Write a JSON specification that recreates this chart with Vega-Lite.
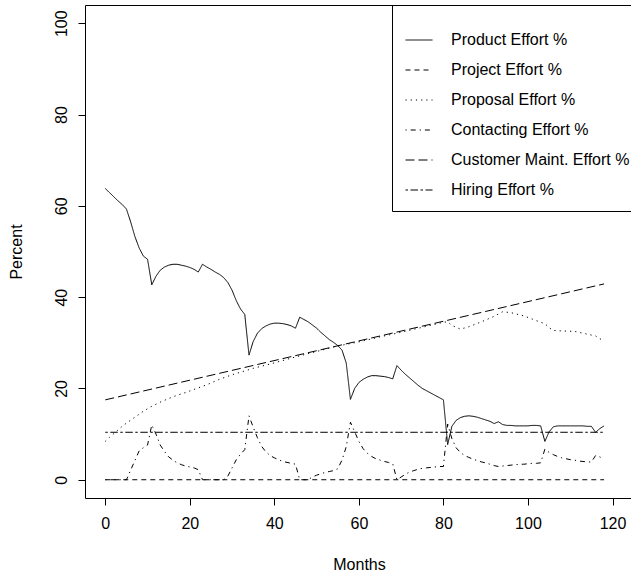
{
  "$schema": "https://vega.github.io/schema/vega-lite/v6.json",
  "width": 548,
  "height": 493,
  "autosize": {"type": "none"},
  "padding": {"left": 85, "top": 5, "right": -2, "bottom": 80},
  "background": "white",
  "config": {
    "font": "Liberation Sans",
    "view": {"stroke": "black", "strokeWidth": 1},
    "axis": {
      "domain": false,
      "grid": false,
      "tickColor": "black",
      "tickSize": 7,
      "tickWidth": 1,
      "labelColor": "black",
      "labelFontSize": 16,
      "titleColor": "black",
      "titleFontSize": 16,
      "titleFontWeight": "normal"
    }
  },
  "data": {
    "values": [
      {"series": "Product Effort %", "month": 0, "value": 63.8},
      {"series": "Product Effort %", "month": 1, "value": 62.9},
      {"series": "Product Effort %", "month": 2, "value": 62.0},
      {"series": "Product Effort %", "month": 3, "value": 61.1},
      {"series": "Product Effort %", "month": 4, "value": 60.3},
      {"series": "Product Effort %", "month": 5, "value": 59.3},
      {"series": "Product Effort %", "month": 6, "value": 56.5},
      {"series": "Product Effort %", "month": 7, "value": 53.3},
      {"series": "Product Effort %", "month": 8, "value": 50.8},
      {"series": "Product Effort %", "month": 9, "value": 49.0},
      {"series": "Product Effort %", "month": 10, "value": 48.3},
      {"series": "Product Effort %", "month": 11, "value": 42.7},
      {"series": "Product Effort %", "month": 12, "value": 44.6},
      {"series": "Product Effort %", "month": 13, "value": 45.9},
      {"series": "Product Effort %", "month": 14, "value": 46.6},
      {"series": "Product Effort %", "month": 15, "value": 47.0},
      {"series": "Product Effort %", "month": 16, "value": 47.2},
      {"series": "Product Effort %", "month": 17, "value": 47.2},
      {"series": "Product Effort %", "month": 18, "value": 47.0},
      {"series": "Product Effort %", "month": 19, "value": 46.8},
      {"series": "Product Effort %", "month": 20, "value": 46.5},
      {"series": "Product Effort %", "month": 21, "value": 46.1},
      {"series": "Product Effort %", "month": 22, "value": 45.5},
      {"series": "Product Effort %", "month": 23, "value": 47.2},
      {"series": "Product Effort %", "month": 24, "value": 46.6},
      {"series": "Product Effort %", "month": 25, "value": 46.1},
      {"series": "Product Effort %", "month": 26, "value": 45.5},
      {"series": "Product Effort %", "month": 27, "value": 45.0},
      {"series": "Product Effort %", "month": 28, "value": 44.3},
      {"series": "Product Effort %", "month": 29, "value": 43.2},
      {"series": "Product Effort %", "month": 30, "value": 41.5},
      {"series": "Product Effort %", "month": 31, "value": 39.2},
      {"series": "Product Effort %", "month": 32, "value": 37.4},
      {"series": "Product Effort %", "month": 33, "value": 36.2},
      {"series": "Product Effort %", "month": 34, "value": 27.3},
      {"series": "Product Effort %", "month": 35, "value": 30.3},
      {"series": "Product Effort %", "month": 36, "value": 32.1},
      {"series": "Product Effort %", "month": 37, "value": 33.1},
      {"series": "Product Effort %", "month": 38, "value": 33.7},
      {"series": "Product Effort %", "month": 39, "value": 34.1},
      {"series": "Product Effort %", "month": 40, "value": 34.3},
      {"series": "Product Effort %", "month": 41, "value": 34.3},
      {"series": "Product Effort %", "month": 42, "value": 34.2},
      {"series": "Product Effort %", "month": 43, "value": 34.0},
      {"series": "Product Effort %", "month": 44, "value": 33.7},
      {"series": "Product Effort %", "month": 45, "value": 33.2},
      {"series": "Product Effort %", "month": 46, "value": 35.6},
      {"series": "Product Effort %", "month": 47, "value": 35.1},
      {"series": "Product Effort %", "month": 48, "value": 34.6},
      {"series": "Product Effort %", "month": 49, "value": 33.9},
      {"series": "Product Effort %", "month": 50, "value": 33.2},
      {"series": "Product Effort %", "month": 51, "value": 32.3},
      {"series": "Product Effort %", "month": 52, "value": 31.5},
      {"series": "Product Effort %", "month": 53, "value": 30.7},
      {"series": "Product Effort %", "month": 54, "value": 30.1},
      {"series": "Product Effort %", "month": 55, "value": 29.4},
      {"series": "Product Effort %", "month": 56, "value": 28.4},
      {"series": "Product Effort %", "month": 57, "value": 25.6},
      {"series": "Product Effort %", "month": 58, "value": 17.6},
      {"series": "Product Effort %", "month": 59, "value": 20.0},
      {"series": "Product Effort %", "month": 60, "value": 21.3},
      {"series": "Product Effort %", "month": 61, "value": 22.0},
      {"series": "Product Effort %", "month": 62, "value": 22.5},
      {"series": "Product Effort %", "month": 63, "value": 22.8},
      {"series": "Product Effort %", "month": 64, "value": 22.8},
      {"series": "Product Effort %", "month": 65, "value": 22.7},
      {"series": "Product Effort %", "month": 66, "value": 22.6},
      {"series": "Product Effort %", "month": 67, "value": 22.4},
      {"series": "Product Effort %", "month": 68, "value": 22.1},
      {"series": "Product Effort %", "month": 69, "value": 25.0},
      {"series": "Product Effort %", "month": 70, "value": 24.0},
      {"series": "Product Effort %", "month": 71, "value": 23.1},
      {"series": "Product Effort %", "month": 72, "value": 22.3},
      {"series": "Product Effort %", "month": 73, "value": 21.5},
      {"series": "Product Effort %", "month": 74, "value": 20.7},
      {"series": "Product Effort %", "month": 75, "value": 20.0},
      {"series": "Product Effort %", "month": 76, "value": 19.5},
      {"series": "Product Effort %", "month": 77, "value": 19.0},
      {"series": "Product Effort %", "month": 78, "value": 18.5},
      {"series": "Product Effort %", "month": 79, "value": 18.0},
      {"series": "Product Effort %", "month": 80, "value": 17.5},
      {"series": "Product Effort %", "month": 81, "value": 7.7},
      {"series": "Product Effort %", "month": 82, "value": 11.7},
      {"series": "Product Effort %", "month": 83, "value": 13.0},
      {"series": "Product Effort %", "month": 84, "value": 13.6},
      {"series": "Product Effort %", "month": 85, "value": 13.9},
      {"series": "Product Effort %", "month": 86, "value": 14.0},
      {"series": "Product Effort %", "month": 87, "value": 13.9},
      {"series": "Product Effort %", "month": 88, "value": 13.7},
      {"series": "Product Effort %", "month": 89, "value": 13.4},
      {"series": "Product Effort %", "month": 90, "value": 13.1},
      {"series": "Product Effort %", "month": 91, "value": 12.8},
      {"series": "Product Effort %", "month": 92, "value": 12.3},
      {"series": "Product Effort %", "month": 93, "value": 12.7},
      {"series": "Product Effort %", "month": 94, "value": 12.1},
      {"series": "Product Effort %", "month": 95, "value": 11.9},
      {"series": "Product Effort %", "month": 96, "value": 11.9},
      {"series": "Product Effort %", "month": 97, "value": 11.8},
      {"series": "Product Effort %", "month": 98, "value": 11.8},
      {"series": "Product Effort %", "month": 99, "value": 11.8},
      {"series": "Product Effort %", "month": 100, "value": 11.8},
      {"series": "Product Effort %", "month": 101, "value": 11.9},
      {"series": "Product Effort %", "month": 102, "value": 11.9},
      {"series": "Product Effort %", "month": 103, "value": 11.8},
      {"series": "Product Effort %", "month": 104, "value": 8.4},
      {"series": "Product Effort %", "month": 105, "value": 10.5},
      {"series": "Product Effort %", "month": 106, "value": 11.6},
      {"series": "Product Effort %", "month": 107, "value": 11.8},
      {"series": "Product Effort %", "month": 108, "value": 11.8},
      {"series": "Product Effort %", "month": 109, "value": 11.8},
      {"series": "Product Effort %", "month": 110, "value": 11.8},
      {"series": "Product Effort %", "month": 111, "value": 11.8},
      {"series": "Product Effort %", "month": 112, "value": 11.8},
      {"series": "Product Effort %", "month": 113, "value": 11.8},
      {"series": "Product Effort %", "month": 114, "value": 11.7},
      {"series": "Product Effort %", "month": 115, "value": 11.7},
      {"series": "Product Effort %", "month": 116, "value": 10.4},
      {"series": "Product Effort %", "month": 117, "value": 11.2},
      {"series": "Product Effort %", "month": 118, "value": 11.8},

      {"series": "Project Effort %", "month": 0, "value": 0},
      {"series": "Project Effort %", "month": 118, "value": 0},

      {"series": "Proposal Effort %", "month": 0, "value": 8.4},
      {"series": "Proposal Effort %", "month": 1, "value": 9.3},
      {"series": "Proposal Effort %", "month": 2, "value": 10.1},
      {"series": "Proposal Effort %", "month": 3, "value": 10.9},
      {"series": "Proposal Effort %", "month": 4, "value": 11.7},
      {"series": "Proposal Effort %", "month": 5, "value": 12.4},
      {"series": "Proposal Effort %", "month": 7, "value": 13.7},
      {"series": "Proposal Effort %", "month": 9, "value": 15.0},
      {"series": "Proposal Effort %", "month": 11, "value": 16.1},
      {"series": "Proposal Effort %", "month": 13, "value": 17.0},
      {"series": "Proposal Effort %", "month": 15, "value": 17.8},
      {"series": "Proposal Effort %", "month": 17, "value": 18.5},
      {"series": "Proposal Effort %", "month": 19, "value": 19.1},
      {"series": "Proposal Effort %", "month": 21, "value": 19.8},
      {"series": "Proposal Effort %", "month": 24, "value": 20.8},
      {"series": "Proposal Effort %", "month": 27, "value": 22.0},
      {"series": "Proposal Effort %", "month": 30, "value": 23.0},
      {"series": "Proposal Effort %", "month": 35, "value": 24.4},
      {"series": "Proposal Effort %", "month": 40, "value": 25.6},
      {"series": "Proposal Effort %", "month": 45, "value": 26.9},
      {"series": "Proposal Effort %", "month": 50, "value": 28.1},
      {"series": "Proposal Effort %", "month": 55, "value": 29.3},
      {"series": "Proposal Effort %", "month": 60, "value": 30.2},
      {"series": "Proposal Effort %", "month": 65, "value": 31.3},
      {"series": "Proposal Effort %", "month": 70, "value": 32.3},
      {"series": "Proposal Effort %", "month": 75, "value": 33.4},
      {"series": "Proposal Effort %", "month": 80, "value": 34.5},
      {"series": "Proposal Effort %", "month": 81, "value": 34.6},
      {"series": "Proposal Effort %", "month": 82, "value": 33.8},
      {"series": "Proposal Effort %", "month": 84, "value": 33.0},
      {"series": "Proposal Effort %", "month": 86, "value": 33.5},
      {"series": "Proposal Effort %", "month": 89, "value": 34.6},
      {"series": "Proposal Effort %", "month": 92, "value": 35.8},
      {"series": "Proposal Effort %", "month": 94, "value": 36.8},
      {"series": "Proposal Effort %", "month": 96, "value": 36.6},
      {"series": "Proposal Effort %", "month": 99, "value": 35.9},
      {"series": "Proposal Effort %", "month": 101, "value": 35.2},
      {"series": "Proposal Effort %", "month": 103, "value": 34.5},
      {"series": "Proposal Effort %", "month": 104, "value": 34.2},
      {"series": "Proposal Effort %", "month": 105, "value": 33.3},
      {"series": "Proposal Effort %", "month": 106, "value": 32.7},
      {"series": "Proposal Effort %", "month": 108, "value": 32.6},
      {"series": "Proposal Effort %", "month": 111, "value": 32.5},
      {"series": "Proposal Effort %", "month": 114, "value": 31.9},
      {"series": "Proposal Effort %", "month": 116, "value": 31.5},
      {"series": "Proposal Effort %", "month": 117, "value": 30.9},
      {"series": "Proposal Effort %", "month": 118, "value": 30.4},

      {"series": "Contacting Effort %", "month": 0, "value": 0},
      {"series": "Contacting Effort %", "month": 5, "value": 0},
      {"series": "Contacting Effort %", "month": 6, "value": 2.1},
      {"series": "Contacting Effort %", "month": 7, "value": 4.2},
      {"series": "Contacting Effort %", "month": 8, "value": 6.3},
      {"series": "Contacting Effort %", "month": 9, "value": 7.0},
      {"series": "Contacting Effort %", "month": 10, "value": 7.6},
      {"series": "Contacting Effort %", "month": 11, "value": 12.0},
      {"series": "Contacting Effort %", "month": 12, "value": 10.0},
      {"series": "Contacting Effort %", "month": 13, "value": 7.6},
      {"series": "Contacting Effort %", "month": 14, "value": 6.2},
      {"series": "Contacting Effort %", "month": 15, "value": 5.0},
      {"series": "Contacting Effort %", "month": 16, "value": 4.3},
      {"series": "Contacting Effort %", "month": 17, "value": 3.7},
      {"series": "Contacting Effort %", "month": 18, "value": 3.3},
      {"series": "Contacting Effort %", "month": 19, "value": 3.0},
      {"series": "Contacting Effort %", "month": 20, "value": 2.8},
      {"series": "Contacting Effort %", "month": 21, "value": 2.6},
      {"series": "Contacting Effort %", "month": 22, "value": 2.2},
      {"series": "Contacting Effort %", "month": 23, "value": 0},
      {"series": "Contacting Effort %", "month": 28, "value": 0},
      {"series": "Contacting Effort %", "month": 29, "value": 0.8},
      {"series": "Contacting Effort %", "month": 30, "value": 2.6},
      {"series": "Contacting Effort %", "month": 31, "value": 4.4},
      {"series": "Contacting Effort %", "month": 32, "value": 5.6},
      {"series": "Contacting Effort %", "month": 33, "value": 6.6},
      {"series": "Contacting Effort %", "month": 34, "value": 14.0},
      {"series": "Contacting Effort %", "month": 35, "value": 11.5},
      {"series": "Contacting Effort %", "month": 36, "value": 9.2},
      {"series": "Contacting Effort %", "month": 37, "value": 7.3},
      {"series": "Contacting Effort %", "month": 38, "value": 6.1},
      {"series": "Contacting Effort %", "month": 39, "value": 5.3},
      {"series": "Contacting Effort %", "month": 40, "value": 4.8},
      {"series": "Contacting Effort %", "month": 41, "value": 4.4},
      {"series": "Contacting Effort %", "month": 42, "value": 4.0},
      {"series": "Contacting Effort %", "month": 43, "value": 3.8},
      {"series": "Contacting Effort %", "month": 44, "value": 3.6},
      {"series": "Contacting Effort %", "month": 45, "value": 3.4},
      {"series": "Contacting Effort %", "month": 46, "value": 0},
      {"series": "Contacting Effort %", "month": 48, "value": 0},
      {"series": "Contacting Effort %", "month": 49, "value": 0.6},
      {"series": "Contacting Effort %", "month": 50, "value": 1.0},
      {"series": "Contacting Effort %", "month": 51, "value": 1.3},
      {"series": "Contacting Effort %", "month": 52, "value": 1.6},
      {"series": "Contacting Effort %", "month": 53, "value": 1.8},
      {"series": "Contacting Effort %", "month": 54, "value": 2.0},
      {"series": "Contacting Effort %", "month": 55, "value": 2.4},
      {"series": "Contacting Effort %", "month": 56, "value": 4.3},
      {"series": "Contacting Effort %", "month": 57, "value": 7.2},
      {"series": "Contacting Effort %", "month": 58, "value": 12.6},
      {"series": "Contacting Effort %", "month": 59, "value": 10.5},
      {"series": "Contacting Effort %", "month": 60, "value": 8.4},
      {"series": "Contacting Effort %", "month": 61, "value": 6.8},
      {"series": "Contacting Effort %", "month": 62, "value": 5.8},
      {"series": "Contacting Effort %", "month": 63, "value": 5.1},
      {"series": "Contacting Effort %", "month": 64, "value": 4.6},
      {"series": "Contacting Effort %", "month": 65, "value": 4.3},
      {"series": "Contacting Effort %", "month": 66, "value": 4.0},
      {"series": "Contacting Effort %", "month": 67, "value": 3.8},
      {"series": "Contacting Effort %", "month": 68, "value": 3.5},
      {"series": "Contacting Effort %", "month": 69, "value": 0},
      {"series": "Contacting Effort %", "month": 70, "value": 0.6},
      {"series": "Contacting Effort %", "month": 71, "value": 1.2},
      {"series": "Contacting Effort %", "month": 72, "value": 1.7},
      {"series": "Contacting Effort %", "month": 73, "value": 2.0},
      {"series": "Contacting Effort %", "month": 74, "value": 2.3},
      {"series": "Contacting Effort %", "month": 75, "value": 2.5},
      {"series": "Contacting Effort %", "month": 76, "value": 2.6},
      {"series": "Contacting Effort %", "month": 77, "value": 2.7},
      {"series": "Contacting Effort %", "month": 78, "value": 2.8},
      {"series": "Contacting Effort %", "month": 79, "value": 2.9},
      {"series": "Contacting Effort %", "month": 80, "value": 2.9},
      {"series": "Contacting Effort %", "month": 81, "value": 12.2},
      {"series": "Contacting Effort %", "month": 82, "value": 9.0},
      {"series": "Contacting Effort %", "month": 83, "value": 7.0},
      {"series": "Contacting Effort %", "month": 84, "value": 6.0},
      {"series": "Contacting Effort %", "month": 85, "value": 5.3},
      {"series": "Contacting Effort %", "month": 86, "value": 4.9},
      {"series": "Contacting Effort %", "month": 87, "value": 4.5},
      {"series": "Contacting Effort %", "month": 88, "value": 4.2},
      {"series": "Contacting Effort %", "month": 89, "value": 3.9},
      {"series": "Contacting Effort %", "month": 90, "value": 3.7},
      {"series": "Contacting Effort %", "month": 91, "value": 3.4},
      {"series": "Contacting Effort %", "month": 92, "value": 3.1},
      {"series": "Contacting Effort %", "month": 93, "value": 2.9},
      {"series": "Contacting Effort %", "month": 94, "value": 3.0},
      {"series": "Contacting Effort %", "month": 95, "value": 3.1},
      {"series": "Contacting Effort %", "month": 96, "value": 3.2},
      {"series": "Contacting Effort %", "month": 97, "value": 3.3},
      {"series": "Contacting Effort %", "month": 98, "value": 3.4},
      {"series": "Contacting Effort %", "month": 99, "value": 3.4},
      {"series": "Contacting Effort %", "month": 100, "value": 3.5},
      {"series": "Contacting Effort %", "month": 101, "value": 3.6},
      {"series": "Contacting Effort %", "month": 102, "value": 3.6},
      {"series": "Contacting Effort %", "month": 103, "value": 3.7},
      {"series": "Contacting Effort %", "month": 104, "value": 6.7},
      {"series": "Contacting Effort %", "month": 105, "value": 6.0},
      {"series": "Contacting Effort %", "month": 106, "value": 5.5},
      {"series": "Contacting Effort %", "month": 107, "value": 5.1},
      {"series": "Contacting Effort %", "month": 108, "value": 4.8},
      {"series": "Contacting Effort %", "month": 109, "value": 4.6},
      {"series": "Contacting Effort %", "month": 110, "value": 4.4},
      {"series": "Contacting Effort %", "month": 111, "value": 4.3},
      {"series": "Contacting Effort %", "month": 112, "value": 4.1},
      {"series": "Contacting Effort %", "month": 113, "value": 4.0},
      {"series": "Contacting Effort %", "month": 114, "value": 3.9},
      {"series": "Contacting Effort %", "month": 115, "value": 3.9},
      {"series": "Contacting Effort %", "month": 116, "value": 5.3},
      {"series": "Contacting Effort %", "month": 117, "value": 5.0},
      {"series": "Contacting Effort %", "month": 118, "value": 4.5},

      {"series": "Customer Maint. Effort %", "month": 0, "value": 17.5},
      {"series": "Customer Maint. Effort %", "month": 118, "value": 42.9},

      {"series": "Hiring Effort %", "month": 0, "value": 10.4},
      {"series": "Hiring Effort %", "month": 118, "value": 10.4}
    ]
  },
  "mark": {"type": "line", "color": "black", "strokeWidth": 1},
  "encoding": {
    "x": {
      "field": "month",
      "type": "quantitative",
      "scale": {"domain": [-4.8, 124.85], "nice": false, "zero": false},
      "axis": {
        "values": [0, 20, 40, 60, 80, 100, 120],
        "title": "Months",
        "labelPadding": 10,
        "titlePadding": 25
      }
    },
    "y": {
      "field": "value",
      "type": "quantitative",
      "scale": {"domain": [-4, 104], "nice": false, "zero": false},
      "axis": {
        "values": [0, 20, 40, 60, 80, 100],
        "title": "Percent",
        "labelAngle": -90,
        "labelAlign": "center",
        "labelBaseline": "bottom",
        "labelPadding": 9,
        "titlePadding": 29
      }
    },
    "strokeDash": {
      "field": "series",
      "type": "nominal",
      "scale": {
        "domain": ["Product Effort %", "Project Effort %", "Proposal Effort %", "Contacting Effort %", "Customer Maint. Effort %", "Hiring Effort %"],
        "range": [[1, 0], [5, 4], [1.2, 4], [1.2, 4, 5, 4], [9, 4], [2.5, 2.5, 7.5, 2.5]]
      },
      "legend": {
        "orient": "none",
        "legendX": 307,
        "legendY": 0,
        "title": " ",
        "titleFontSize": 8,
        "titlePadding": 0,
        "padding": 13,
        "strokeColor": "black",
        "symbolType": "stroke",
        "symbolSize": 729,
        "symbolStrokeWidth": 1,
        "symbolStrokeColor": "black",
        "labelFontSize": 16,
        "labelColor": "black",
        "labelOffset": 18,
        "labelLimit": 400,
        "rowPadding": 8
      }
    }
  }
}
